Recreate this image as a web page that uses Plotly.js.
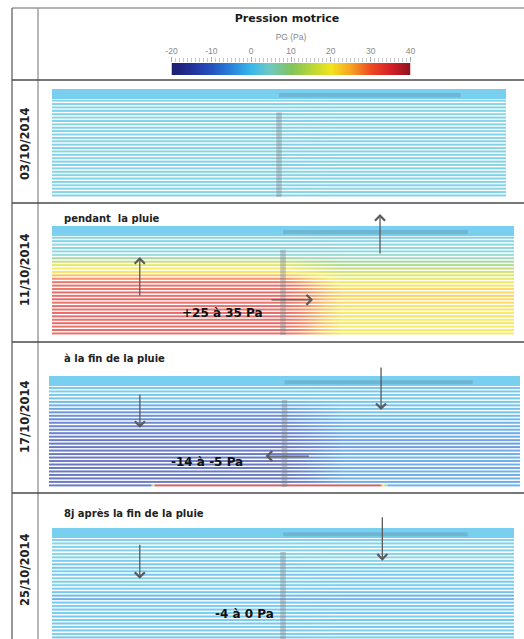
<!DOCTYPE html>
<html><head><meta charset="utf-8">
<script src="https://cdn.plot.ly/plotly-3.0.1.min.js"></script>
<style>html,body{margin:0;padding:0;background:#fff}#chart{width:524px;height:639px}</style>
</head><body><div id="chart"></div>
<script>
// ================= DATA =================
const dates = ['03/10/2014', '11/10/2014', '17/10/2014', '25/10/2014'];
const captions = ['', 'pendant  la pluie', 'à la fin de la pluie', '8j après la fin de la pluie'];
const rangeLabels = ['', '+25 à 35 Pa', '-14 à -5 Pa', '-4 à 0 Pa'];
const pgTicks = [-20, -10, 0, 10, 20, 30, 40];

// model x positions (m) where stripe values are given: left edge, wall, just right of wall, right edge
const stripeCols = [0, 10, 12.5, 20];

// Pressure PG (Pa) per stripe, top to bottom, left of wall / right of wall
const pg0310Left  = [0, 0, 0, 2, 1, 2, 0, 1, 2, 1, 2, 1, 1, 2, 1, 2, 1, 1, 2, 1, 2, 1, 1, 2, 1, 2, 1, 1, 2, 1, 2, 1];
const pg0310Right = [0, 0, 0, 1, 2, 1, 1, 2, 1, 2, 1, 1, 2, 1, 2, 1, 1, 2, 1, 2, 1, 1, 2, 1, 2, 1, 1, 2, 1, 2, 1, 1];

const pg1110Left  = [0, 0, 1, 2, 1, 3, 2, 3, 4, 8, 14, 18, 20, 21, 25, 29, 32, 33, 32, 34, 33, 34, 33, 34, 33, 34, 34, 33, 34, 33, 34, 33];
const pg1110Right = [0, 0, 0, 1, 2, 2, 3, 3, 5, 6, 8, 11, 13, 15, 17, 18, 19, 21, 22, 22, 23, 22, 22, 21, 21, 20, 21, 20, 21, 20, 20, 20];

const pg1710Left  = [0, 0, 0, -1, 0, -1, -2, -3, -5, -6, -8, -9, -10, -10, -11, -11, -12, -12, -13, -14, -14, -13, -13, -14, -13, -14, -13, -14, -13, -14, -13];
const pg1710Right = [0, 0, 0, -1, -1, 0, -1, -1, -2, -2, -2, -3, -3, -4, -4, -4, -5, -5, -6, -7, -7, -5, -5, -4, -5, -4, -5, -4, -5, -4, -5];
// bottom stripe of 17/10 (drain line)
const drain1710Cols = [0, 4.3, 4.5, 14.0, 14.4, 20];
const drain1710PG   = [-13, -13, 37, 37, -4, -4];

const pg2510Left  = [0, 0, 0, 1, 2, 1, 1, 2, 1, 0, -1, -1, 0, -1, 1, 0, 1, 0, -1, -3, -4, -1, 0, -1, 0, -1, 0, -1, 0, -1, 0, -1];
const pg2510Right = [0, 0, 0, 1, 1, 2, 1, 1, 2, 1, 0, -1, 0, -1, 0, -1, 0, -1, -2, -4, -3, -1, -1, 0, -1, 0, -1, 0, -1, 0, -1, 0];

// structures (model coordinates): wall and top slab
const wallX = [9.88, 10.12];
const wallY = [-6.4, -31.4];
const slabX = [10.0, 18.0];
const slabY = [-0.7, -1.9];

// ================= STYLE =================
const pgColorscale = [
  [0.000, '#1b1f6e'], [0.083, '#23319a'], [0.167, '#2554c0'], [0.250, '#2a86dc'],
  [0.333, '#3ab9ea'], [0.400, '#6cc8c8'], [0.500, '#82c45a'], [0.583, '#b8d638'],
  [0.667, '#f4e41e'], [0.750, '#f6a322'], [0.833, '#ee4a22'], [0.917, '#d42028'], [1.000, '#8a1420']
];
const W = 524, H = 639;
const px = v => v / W, py = v => 1 - v / H;
const domains = [
  {x: [px(52), px(506)], y: [py(197), py(89)]},
  {x: [px(52), px(514)], y: [py(335), py(226)]},
  {x: [px(49), px(520)], y: [py(487), py(376)]},
  {x: [px(52), px(514)], y: [py(639), py(528)]}
];
const yRange = [-31.4, 0.5];
const STRIPE_OPACITY = 0.68;

const panels = [
  {left: pg0310Left, right: pg0310Right},
  {left: pg1110Left, right: pg1110Right},
  {left: pg1710Left, right: pg1710Right, drain: {x: drain1710Cols, z: drain1710PG}},
  {left: pg2510Left, right: pg2510Right}
];

function heat(x, yEdges, z, n) {
  return {
    type: 'heatmap', x: x, y: yEdges, z: z, zsmooth: 'best',
    colorscale: pgColorscale, zmin: -20, zmax: 40, showscale: false,
    opacity: STRIPE_OPACITY, hoverinfo: 'skip',
    xaxis: n === 1 ? 'x' : 'x' + n, yaxis: n === 1 ? 'y' : 'y' + n
  };
}

const traces = [];
panels.forEach((p, i) => {
  const n = i + 1;
  const row = k => [p.left[k], p.left[k], p.right[k], p.right[k]];
  // top band: 3 contiguous stripes
  traces.push(heat(stripeCols, [0.5, -0.5, -1.5, -2.35], [row(0), row(1), row(2)], n));
  for (let k = 3; k < p.left.length; k++) {
    traces.push(heat(stripeCols, [-k + 0.35, -k - 0.35], [row(k)], n));
  }
  if (p.drain) {
    const k = p.left.length;
    traces.push(heat(p.drain.x, [-k + 0.35, -k - 0.35], [p.drain.z], n));
  }
});

// colour bar drawn as its own subplot
traces.push({
  type: 'heatmap', x: pgTicks, y: [0, 1], z: [pgTicks], zsmooth: 'best',
  colorscale: pgColorscale, zmin: -20, zmax: 40, showscale: false, hoverinfo: 'skip',
  xaxis: 'x5', yaxis: 'y5'
});

const layout = {
  width: W, height: H, margin: {l: 0, r: 0, t: 0, b: 0},
  paper_bgcolor: '#fff', plot_bgcolor: 'rgba(0,0,0,0)', showlegend: false,
  font: {family: 'DejaVu Sans', color: '#222'},
  title: {text: '<b>Pression motrice</b>', x: px(287), y: py(18), xanchor: 'center', yanchor: 'middle',
          font: {family: 'DejaVu Sans', size: 11, color: '#1a1a1a'}},
  shapes: [], annotations: []
};

domains.forEach((d, i) => {
  const n = i + 1, s = n === 1 ? '' : String(n);
  layout['xaxis' + s] = {domain: d.x, range: [0, 20], visible: false, fixedrange: true, anchor: 'y' + s};
  layout['yaxis' + s] = {domain: d.y, range: yRange, visible: false, fixedrange: true, anchor: 'x' + s};
  // wall and slab
  layout.shapes.push({type: 'rect', xref: 'x' + s, yref: 'y' + s, x0: slabX[0], x1: slabX[1], y0: slabY[0], y1: slabY[1],
    fillcolor: 'rgba(70,110,125,0.24)', line: {width: 0}, layer: 'above'});
  layout.shapes.push({type: 'rect', xref: 'x' + s, yref: 'y' + s, x0: wallX[0], x1: wallX[1], y0: wallY[0], y1: wallY[1],
    fillcolor: 'rgba(125,132,136,0.42)', line: {width: 0}, layer: 'above'});
});

layout.xaxis5 = {domain: [px(171.5), px(410.5)], range: [-20, 40], side: 'top', anchor: 'y5', fixedrange: true,
  showgrid: false, zeroline: false, showline: false,
  tickmode: 'array', tickvals: pgTicks, ticktext: pgTicks.map(String),
  ticks: 'outside', ticklen: 5, tickcolor: '#aaa', tickwidth: 1,
  tickfont: {family: 'Liberation Sans', size: 8.5, color: '#888'},
  minor: {tickmode: 'linear', tick0: -20, dtick: 1, ticks: 'outside', ticklen: 4, tickcolor: '#bbb', tickwidth: 0.8},
  title: {text: 'PG (Pa)', standoff: 3, font: {family: 'Liberation Sans', size: 8.5, color: '#888'}}};
layout.yaxis5 = {domain: [py(75), py(63)], range: [0, 1], visible: false, fixedrange: true, anchor: 'x5'};

// table frame
const lineDark = {color: '#4a4a4a', width: 1.5};
[
  [12, 8, 524, 8, {color: '#666', width: 1.2}],
  [12, 8, 12, 639, {color: '#555', width: 1.2}],
  [38, 8, 38, 639, {color: '#999', width: 1.4}],
  [12, 80, 524, 80, lineDark],
  [12, 203, 524, 203, lineDark],
  [12, 342, 524, 342, lineDark],
  [12, 493, 524, 493, lineDark]
].forEach(l => layout.shapes.push({type: 'line', xref: 'paper', yref: 'paper',
  x0: px(l[0]), y0: py(l[1]), x1: px(l[2]), y1: py(l[3]), line: l[4], layer: 'above'}));

// date labels
const dateCenters = [144, 270, 417, 570];
dates.forEach((t, i) => layout.annotations.push({text: '<b>' + t + '</b>', xref: 'paper', yref: 'paper',
  x: px(25), y: py(dateCenters[i]), textangle: -90, showarrow: false, xanchor: 'center', yanchor: 'middle',
  font: {family: 'DejaVu Sans', size: 11.5, color: '#222'}}));

// captions
const captionY = [0, 218, 358, 513];
captions.forEach((t, i) => { if (t) layout.annotations.push({text: '<b>' + t + '</b>', xref: 'paper', yref: 'paper',
  x: px(62), y: py(captionY[i]), showarrow: false, xanchor: 'left', yanchor: 'middle',
  font: {family: 'DejaVu Sans', size: 10, color: '#222'}}); });

// range labels in panels
const rangePos = [null, [7.36, -24.9], [6.7, -24.2], [8.35, -24.1]];
rangeLabels.forEach((t, i) => { if (t) { const s = String(i + 1);
  layout.annotations.push({text: '<b>' + t + '</b>', xref: 'x' + s, yref: 'y' + s, x: rangePos[i][0], y: rangePos[i][1],
    showarrow: false, xanchor: 'center', yanchor: 'middle', font: {family: 'DejaVu Sans', size: 12, color: '#111'}}); } });

// flow arrows: [panel, tailX, tailY, headX, headY]
const flowArrows = [
  [2, 3.8, -20.3, 3.8, -8.6], [2, 14.2, -8.0, 14.2, 4.0], [2, 9.44, -21.1, 11.3, -21.1],
  [3, 3.86, -4.4, 3.86, -14.4], [3, 14.1, 3.4, 14.1, -9.3], [3, 11.1, -22.5, 9.2, -22.5],
  [4, 3.8, -3.9, 3.8, -14.1], [4, 14.3, 4.0, 14.3, -8.9]
];
flowArrows.forEach(a => { const s = String(a[0]);
  layout.annotations.push({xref: 'x' + s, yref: 'y' + s, axref: 'x' + s, ayref: 'y' + s,
    x: a[3], y: a[4], ax: a[1], ay: a[2], text: '', showarrow: true,
    arrowhead: 4, arrowsize: 1.5, arrowwidth: 1.3, arrowcolor: '#5a5a5a'}); });

Plotly.newPlot('chart', traces, layout, {staticPlot: true, displayModeBar: false});
</script>
</body></html>
